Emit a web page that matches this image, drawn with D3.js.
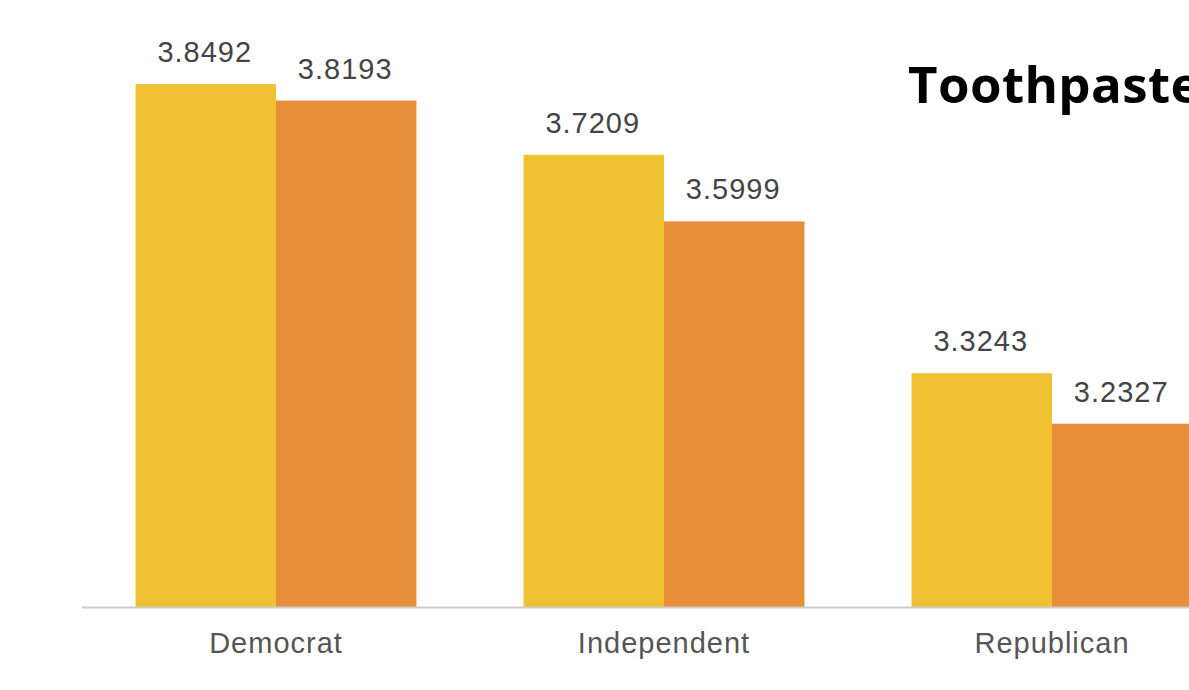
<!DOCTYPE html>
<html>
<head>
<meta charset="utf-8">
<script src="https://cdn.jsdelivr.net/npm/d3@7"></script>
<style>
  html, body { margin: 0; padding: 0; background: #fff; }
  svg { display: block; }
</style>
</head>
<body>
<svg id="chart" width="1189" height="690"></svg>
<script>
const categories = ["Democrat", "Independent", "Republican"];
const seriesNames = ["Series A", "Series B"];
const seriesA = [3.8492, 3.7209, 3.3243];
const seriesB = [3.8193, 3.5999, 3.2327];
const labelsA = ["3.8492", "3.7209", "3.3243"];
const labelsB = ["3.8193", "3.5999", "3.2327"];
const colors = ["#F0C132", "#E68F38"];
const titleText = "Toothpaste";

const svg = d3.select("#chart");
const W = 1189, H = 690;
const baseY = 607;

const x0 = d3.scaleBand().domain(categories).range([82, 1246])
  .paddingInner(0.276).paddingOuter(0.138);
const x1 = d3.scaleBand().domain(seriesNames).range([0, x0.bandwidth()]).padding(0);
const y = d3.scaleLinear().domain([2.9, 4.0]).range([baseY, 1]);

const rows = categories.map((c, i) => ({
  cat: c,
  vals: [
    {s: seriesNames[0], v: seriesA[i], label: labelsA[i], color: colors[0]},
    {s: seriesNames[1], v: seriesB[i], label: labelsB[i], color: colors[1]}
  ]
}));

const g = svg.append("g");
const groups = g.selectAll("g.cat").data(rows).join("g")
  .attr("class", "cat")
  .attr("transform", d => `translate(${x0(d.cat)},0)`);

groups.selectAll("rect").data(d => d.vals).join("rect")
  .attr("x", d => x1(d.s))
  .attr("y", d => y(d.v))
  .attr("width", x1.bandwidth())
  .attr("height", d => baseY - y(d.v))
  .attr("fill", d => d.color);

groups.selectAll("text.val").data(d => d.vals).join("text")
  .attr("class", "val")
  .attr("x", d => x1(d.s) + x1.bandwidth() / 2 - 1)
  .attr("y", d => y(d.v) - 22)
  .attr("text-anchor", "middle")
  .attr("font-family", "'Liberation Sans', Arial, sans-serif")
  .attr("font-size", 29)
  .attr("letter-spacing", 1.0)
  .attr("fill", "#444")
  .text(d => d.label);

// x axis
const xAxis = d3.axisBottom(x0).tickSize(0).tickPadding(0);
const ax = svg.append("g").attr("transform", `translate(0,${baseY})`).call(xAxis);
ax.select(".domain").remove();
ax.append("line").attr("x1", 82).attr("x2", W).attr("y1", 0.5).attr("y2", 0.5)
  .attr("stroke", "#cccccc").attr("stroke-width", 2);
ax.selectAll(".tick text")
  .attr("dy", 0).attr("y", 46)
  .attr("font-family", "'Liberation Sans', Arial, sans-serif")
  .attr("font-size", 29)
  .attr("letter-spacing", 1.0)
  .attr("fill", "#555");

svg.append("text")
  .attr("x", 908).attr("y", 103)
  .attr("font-family", "'Open Sans', sans-serif")
  .attr("font-weight", 700)
  .attr("font-size", 51)
  .attr("letter-spacing", 0.4)
  .attr("fill", "#000")
  .text(titleText);
</script>
</body>
</html>
